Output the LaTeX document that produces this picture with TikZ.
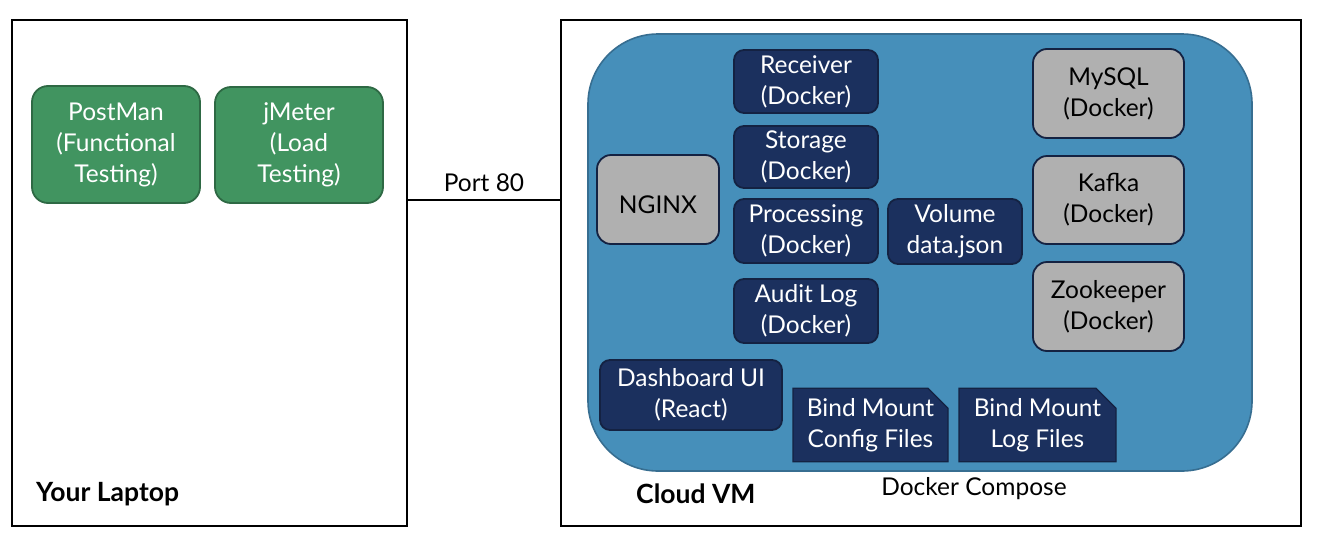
\documentclass[tikz,border=0pt]{standalone}
\usepackage{fontspec}
\setmainfont{Lato}
\usetikzlibrary{shapes.misc}
\definecolor{greenfill}{RGB}{65,148,96}
\definecolor{greenline}{RGB}{46,105,68}
\definecolor{navyfill}{RGB}{27,48,94}
\definecolor{navyline}{RGB}{20,34,66}
\definecolor{grayfill}{RGB}{176,176,176}
\definecolor{bluefill}{RGB}{70,143,186}
\definecolor{blueline}{RGB}{55,110,145}
\tikzset{
  boxtext/.style={font=\fontsize{24.5}{31}\selectfont, align=center, inner sep=0pt,
    execute at begin node={\rule{0pt}{29pt}}},
  greenbox/.style={boxtext, draw=greenline, fill=greenfill, text=white, line width=1.8pt, rounded corners=16pt},
  navybox/.style={boxtext, draw=navyline, fill=navyfill, text=white, line width=1.8pt, rounded corners=10pt},
  graybox/.style={boxtext, draw=navyline, fill=grayfill, text=black, line width=1.8pt, rounded corners=14pt},
  mountbox/.style={boxtext, draw=navyline, fill=navyfill, text=white, line width=1.2pt,
    chamfered rectangle, chamfered rectangle corners=north east,
    chamfered rectangle xsep=10pt, chamfered rectangle ysep=10pt},
  frame/.style={draw=black, line width=2pt, fill=white},
  plainlabel/.style={font=\fontsize{24.5}{28}\selectfont, inner sep=0pt},
  boldlabel/.style={font=\fontsize{26.5}{28}\selectfont\bfseries, inner sep=0pt}
}
\begin{document}
\begin{tikzpicture}[x=1pt,y=-1pt]
\useasboundingbox (0,0) rectangle (1317,541);
% frames
\node[frame, minimum width=395pt, minimum height=506pt, inner sep=0pt] (laptop) at (209.5,273) {};
\node[frame, minimum width=740pt, minimum height=506pt, inner sep=0pt] (cloud) at (931,273) {};
% connection
\coordinate (pl) at (laptop.east |- 0,200);
\coordinate (pr) at (cloud.west |- 0,200);
\draw[line width=1.2pt] (pl) -- node[plainlabel, above=8pt] (port) {Port 80} (pr);
% container
\node[draw=blueline, fill=bluefill, line width=1.6pt, rounded corners=70pt,
      minimum width=664pt, minimum height=437pt, inner sep=0pt] (compose) at (920,252.5) {};
% laptop nodes
\node[greenbox, minimum width=168pt, minimum height=117pt] (postman) at (116,144.5) {PostMan\\(Functional\\Testing)};
\node[greenbox, minimum width=168pt, minimum height=116pt] (jmeter) at (299,145) {jMeter\\(Load\\Testing)};
% cloud nodes
\node[graybox, minimum width=122pt, minimum height=89pt] (nginx) at (658,199.5) {NGINX};
\node[navybox, minimum width=144pt, minimum height=63pt] (receiver) at (806,81.5) {Receiver\\(Docker)};
\node[navybox, minimum width=144pt, minimum height=62pt] (storage) at (806,157) {Storage\\(Docker)};
\node[navybox, minimum width=144pt, minimum height=64pt] (processing) at (806,231) {Processing\\(Docker)};
\node[navybox, minimum width=144pt, minimum height=64pt] (audit) at (806,311) {Audit Log\\(Docker)};
\node[navybox, minimum width=134pt, minimum height=65pt] (volume) at (955,231.5) {Volume\\data.json};
\node[graybox, minimum width=151pt, minimum height=89pt] (mysql) at (1108.5,93.5) {MySQL\\(Docker)};
\node[graybox, minimum width=151pt, minimum height=88pt] (kafka) at (1108.5,200) {Kafka\\(Docker)};
\node[graybox, minimum width=151pt, minimum height=89pt] (zookeeper) at (1108.5,306.5) {Zookeeper\\(Docker)};
\node[navybox, minimum width=182pt, minimum height=70pt] (dashboard) at (691,395) {Dashboard UI\\(React)};
\node[mountbox, minimum width=155pt, minimum height=72pt] (bindconfig) at (870.5,425) {Bind Mount\\Config Files};
\node[mountbox, minimum width=157pt, minimum height=72pt] (bindlog) at (1037.5,425) {Bind Mount\\Log Files};
% labels
\node[boldlabel, anchor=west] (laptoplabel) at (36,494) {Your Laptop};
\node[boldlabel, anchor=west] (cloudlabel) at (636,494) {Cloud VM};
\node[plainlabel] (composelabel) at (974,489) {Docker Compose};
\end{tikzpicture}
\end{document}
